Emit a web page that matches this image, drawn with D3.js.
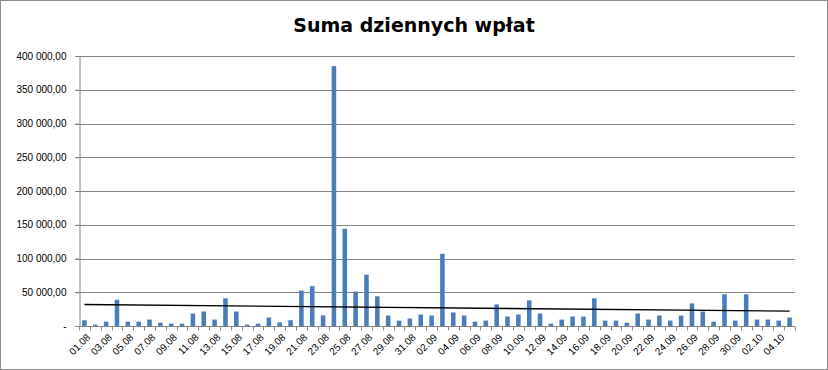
<!DOCTYPE html>
<html>
<head>
<meta charset="utf-8">
<script src="https://cdn.jsdelivr.net/npm/d3@7"></script>
<style>
  body { margin: 0; background: #fff; }
  svg { display: block; }
</style>
</head>
<body>
<svg id="chart"></svg>
<script>
// daily dates 01.08 - 05.10
const days = [
  '01.08','02.08','03.08','04.08','05.08','06.08','07.08','08.08','09.08','10.08',
  '11.08','12.08','13.08','14.08','15.08','16.08','17.08','18.08','19.08','20.08',
  '21.08','22.08','23.08','24.08','25.08','26.08','27.08','28.08','29.08','30.08',
  '31.08','01.09','02.09','03.09','04.09','05.09','06.09','07.09','08.09','09.09',
  '10.09','11.09','12.09','13.09','14.09','15.09','16.09','17.09','18.09','19.09',
  '20.09','21.09','22.09','23.09','24.09','25.09','26.09','27.09','28.09','29.09',
  '30.09','01.10','02.10','03.10','04.10','05.10'
];

const payments = [
  8500, 2000, 6500, 39000, 6500, 6500, 9500, 5000, 3500, 3500,
  18500, 21500, 9500, 41000, 21500, 2000, 3500, 12500, 5500, 8500,
  52500, 59000, 15800, 385000, 144000, 51000, 76000, 44000, 15500, 8000,
  11000, 17000, 15500, 107000, 20000, 15500, 6500, 8000, 32000, 14000,
  17000, 38000, 18500, 3500, 9500, 14000, 14000, 41000, 8000, 8000,
  5000, 18500, 9500, 15500, 8000, 15500, 33500, 21500, 6500, 47000,
  8000, 47000, 9500, 9500, 8000, 12500
];

const yTicks = [0, 50000, 100000, 150000, 200000, 250000, 300000, 350000, 400000];

const width = 828, height = 370;
const margin = { top: 56, right: 33, bottom: 44, left: 79 };

const svg = d3.select('#chart')
  .attr('width', width)
  .attr('height', height);

svg.append('rect')
  .attr('x', 0.5).attr('y', 0.5)
  .attr('width', width - 1).attr('height', height - 1)
  .attr('fill', '#fff')
  .attr('stroke', '#8c8c8c');

const x = d3.scaleBand()
  .domain(days)
  .range([margin.left, width - margin.right])
  .paddingInner(0.58)
  .paddingOuter(0.29);

const y = d3.scaleLinear()
  .domain([0, 400000])
  .range([height - margin.bottom, margin.top]);

// format like "350 000,00", zero shown as "-"
const fmt = v => v === 0 ? '-' :
  d3.format(',.2f')(v).replace(/,/g, ' ').replace('.', ',');

// gridlines
svg.append('g')
  .selectAll('line')
  .data(yTicks.slice(1))
  .enter()
  .append('line')
  .attr('x1', margin.left - 4)
  .attr('x2', width - margin.right)
  .attr('y1', d => Math.round(y(d)) + 0.5)
  .attr('y2', d => Math.round(y(d)) + 0.5)
  .attr('stroke', '#868686')
  .attr('stroke-width', 1);

// y axis
const yAxis = svg.append('g')
  .attr('transform', `translate(${margin.left + 0.5},0)`)
  .call(d3.axisLeft(y).tickValues(yTicks).tickSize(4).tickFormat(fmt));
yAxis.select('.domain').attr('stroke', '#868686');
yAxis.selectAll('.tick line').attr('stroke', '#868686');
yAxis.selectAll('text')
  .attr('x', -13)
  .style('font-family', 'Liberation Sans, Arial, sans-serif')
  .style('font-size', '10px')
  .attr('fill', '#000');

// bars
svg.append('g')
  .selectAll('rect')
  .data(payments)
  .enter()
  .append('rect')
  .attr('x', (d, i) => x(days[i]))
  .attr('y', d => y(d))
  .attr('width', x.bandwidth())
  .attr('height', d => y(0) - y(d))
  .attr('fill', '#4a7ebb');

// x axis with ticks on category boundaries
const step = x.step();
const xAxis = svg.append('g')
  .attr('transform', `translate(0,${Math.round(y(0)) + 0.5})`);
xAxis.append('line')
  .attr('x1', margin.left).attr('x2', width - margin.right)
  .attr('stroke', '#868686');
xAxis.selectAll('.tk')
  .data(d3.range(days.length + 1))
  .enter()
  .append('line')
  .attr('class', 'tk')
  .attr('x1', i => Math.round(margin.left + i * step) + 0.5)
  .attr('x2', i => Math.round(margin.left + i * step) + 0.5)
  .attr('y1', 0).attr('y2', 4)
  .attr('stroke', '#868686');
xAxis.selectAll('text')
  .data(days.filter((d, i) => i % 2 === 0))
  .enter()
  .append('text')
  .attr('transform', d => `translate(${x(d) + x.bandwidth() / 2 + 4},${9}) rotate(-45)`)
  .attr('text-anchor', 'end')
  .attr('dy', '0.35em')
  .style('font-family', 'Liberation Sans, Arial, sans-serif')
  .style('font-size', '10px')
  .text(d => d);

// linear trend line from the data
const n = payments.length;
const mx = d3.mean(d3.range(n));
const my = d3.mean(payments);
const slope = d3.sum(payments, (v, i) => (i - mx) * (v - my)) /
  d3.sum(d3.range(n), i => (i - mx) * (i - mx));
const icpt = my - slope * mx;
const trend = [0, n - 1].map(i => ({ i, v: icpt + slope * i }));
svg.append('path')
  .datum(trend)
  .attr('fill', 'none')
  .attr('stroke', '#000')
  .attr('stroke-width', 1.3)
  .attr('d', d3.line()
    .x(d => x(days[d.i]) + x.bandwidth() / 2)
    .y(d => y(d.v)));

// title
svg.append('text')
  .attr('x', 414)
  .attr('y', 32)
  .attr('text-anchor', 'middle')
  .style('font-family', '"Comic Sans MS", "DejaVu Sans", sans-serif')
  .style('font-weight', 'bold')
  .style('font-size', '19px')
  .text('Suma dziennych wpłat');
</script>
</body>
</html>
